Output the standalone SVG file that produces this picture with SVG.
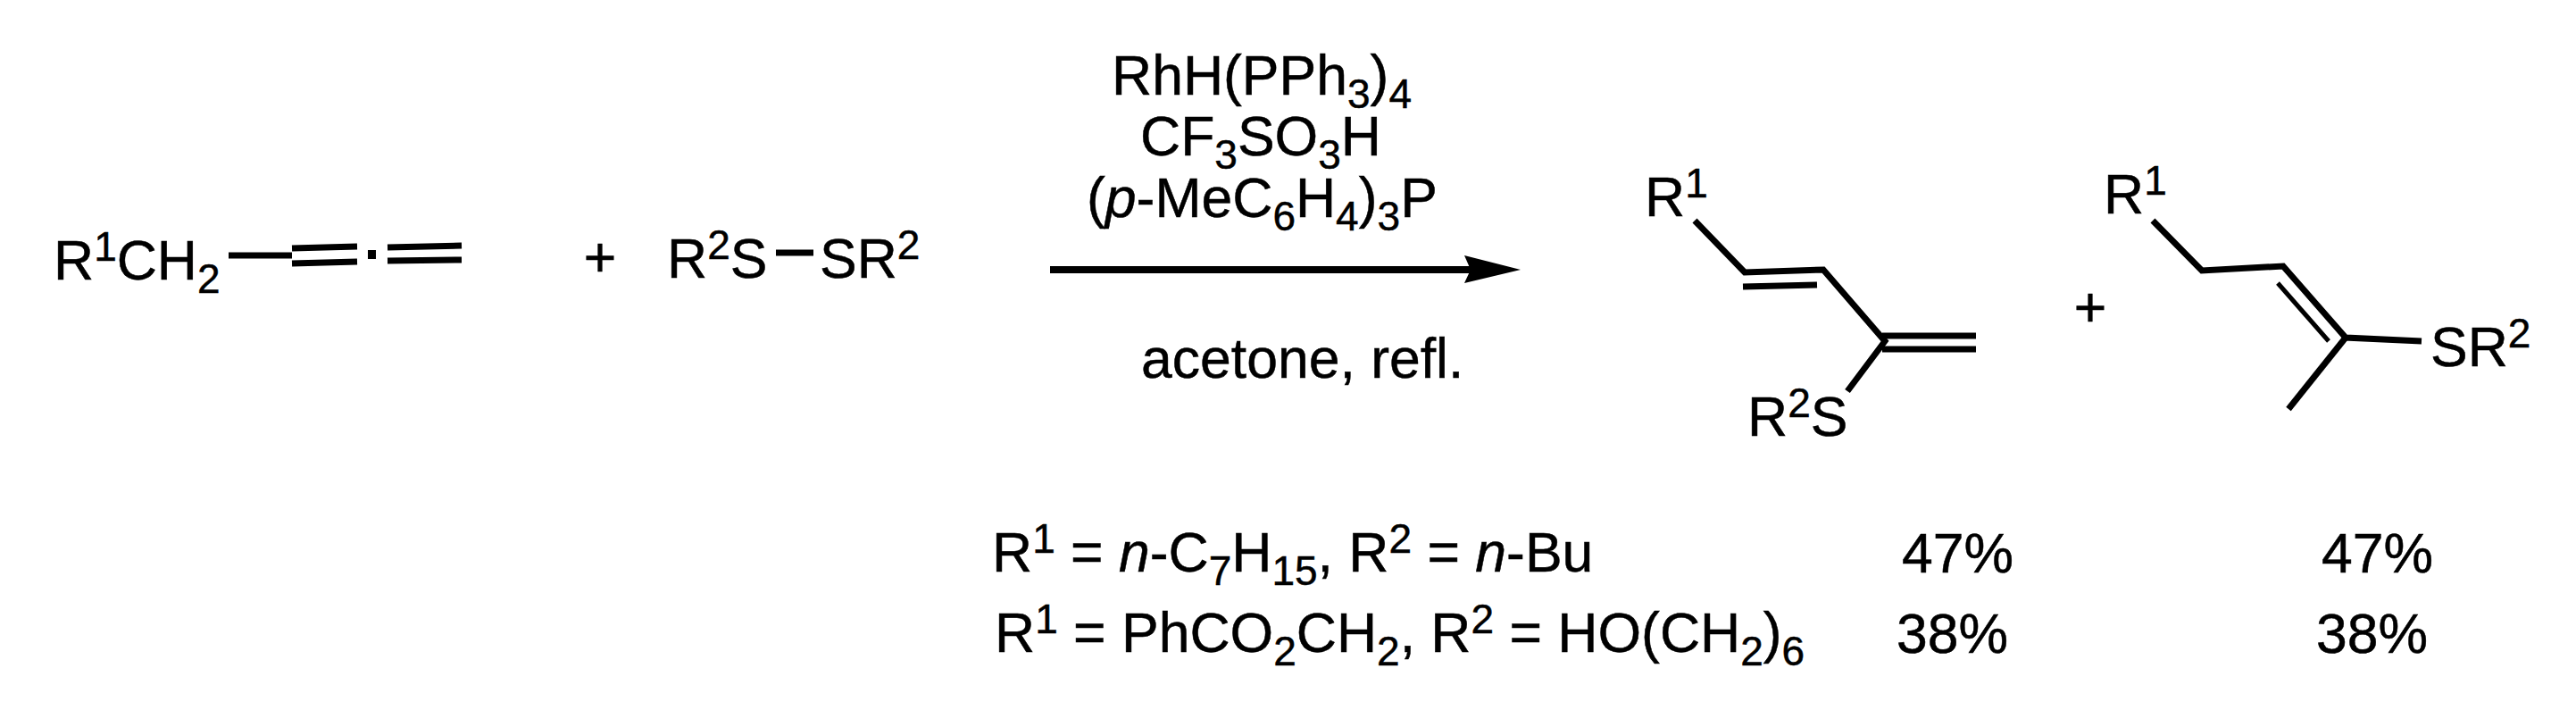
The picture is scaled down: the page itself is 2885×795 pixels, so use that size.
<svg xmlns="http://www.w3.org/2000/svg" width="2885" height="795" viewBox="0 0 2885 795">
<style>
text{font-family:"Liberation Sans",Arial,sans-serif;font-size:62.5px;fill:#000;stroke:#000;stroke-width:.5}
.s{font-size:46px}
.i{font-style:italic}
line,polyline{stroke:#000;stroke-width:7;fill:none}
.thin{stroke-width:5}
</style>
<rect width="2885" height="795" fill="#fff"/>
<g id="connectors">
<line x1="256" y1="286" x2="327" y2="286"/>
<line x1="869" y1="283" x2="911" y2="283"/>
<line x1="1176" y1="302" x2="1650" y2="302" style="stroke-width:8"/>
<polygon points="1703,302 1640,286 1647,302 1640,317" fill="#000"/>
</g>
<g id="allene">
<text x="60" y="313">R<tspan class="s" dy="-21">1</tspan><tspan dy="21">CH</tspan><tspan class="s" dy="15">2</tspan></text>
<line x1="327" y1="278" x2="400" y2="276"/>
<line x1="327" y1="295" x2="400" y2="293"/>
<rect x="412" y="280" width="9" height="10"/>
<line x1="434" y1="277" x2="517" y2="275"/>
<line x1="434" y1="292" x2="517" y2="291"/>
</g>
<g id="plus1"><text x="672" y="310" text-anchor="middle">+</text></g>
<g id="disulfide">
<text x="747" y="311">R<tspan class="s" dy="-21">2</tspan><tspan dy="21">S</tspan></text>
<text x="918" y="311">SR<tspan class="s" dy="-21">2</tspan></text>
</g>
<g id="conditions">
<text x="1245" y="106">RhH(PPh<tspan class="s" dy="15">3</tspan><tspan dy="-15">)</tspan><tspan class="s" dy="15">4</tspan></text>
<text x="1277" y="174">CF<tspan class="s" dy="15">3</tspan><tspan dy="-15">SO</tspan><tspan class="s" dy="15">3</tspan><tspan dy="-15">H</tspan></text>
<text x="1217" y="243">(<tspan class="i">p</tspan>-MeC<tspan class="s" dy="15">6</tspan><tspan dy="-15">H</tspan><tspan class="s" dy="15">4</tspan><tspan dy="-15">)</tspan><tspan class="s" dy="15">3</tspan><tspan dy="-15">P</tspan></text>
<text x="1278" y="423">acetone, refl.</text>
</g>
<g id="product1">
<text x="1842" y="242">R<tspan class="s" dy="-21">1</tspan></text>
<polyline points="1898,247 1954,305 2042,302 2111,382 2069,438"/>
<line x1="1952" y1="321" x2="2035" y2="319"/>
<line x1="2108" y1="376" x2="2213" y2="376"/>
<line x1="2108" y1="391" x2="2213" y2="391"/>
<text x="1957" y="488">R<tspan class="s" dy="-21">2</tspan><tspan dy="21">S</tspan></text>
</g>
<g id="plus2"><text x="2341" y="366" text-anchor="middle">+</text></g>
<g id="product2">
<text x="2356" y="239">R<tspan class="s" dy="-21">1</tspan></text>
<polyline points="2411,247 2466,303 2557,298 2627,378 2712,382"/>
<line x1="2627" y1="378" x2="2563" y2="458"/>
<line class="thin" x1="2551" y1="317" x2="2608" y2="382"/>
<text x="2722" y="410">SR<tspan class="s" dy="-21">2</tspan></text>
</g>
<g id="table">
<text x="1111" y="640">R<tspan class="s" dy="-21">1</tspan><tspan dy="21"> = </tspan><tspan class="i">n</tspan>-C<tspan class="s" dy="15">7</tspan><tspan dy="-15">H</tspan><tspan class="s" dy="15">15</tspan><tspan dy="-15">, R</tspan><tspan class="s" dy="-21">2</tspan><tspan dy="21"> = </tspan><tspan class="i">n</tspan>-Bu</text>
<text x="1114" y="730">R<tspan class="s" dy="-21">1</tspan><tspan dy="21"> = PhCO</tspan><tspan class="s" dy="15">2</tspan><tspan dy="-15">CH</tspan><tspan class="s" dy="15">2</tspan><tspan dy="-15">, R</tspan><tspan class="s" dy="-21">2</tspan><tspan dy="21"> = HO(CH</tspan><tspan class="s" dy="15">2</tspan><tspan dy="-15">)</tspan><tspan class="s" dy="15">6</tspan></text>
<text x="2130" y="641">47%</text>
<text x="2600" y="641">47%</text>
<text x="2124" y="731">38%</text>
<text x="2594" y="731">38%</text>
</g>
</svg>
